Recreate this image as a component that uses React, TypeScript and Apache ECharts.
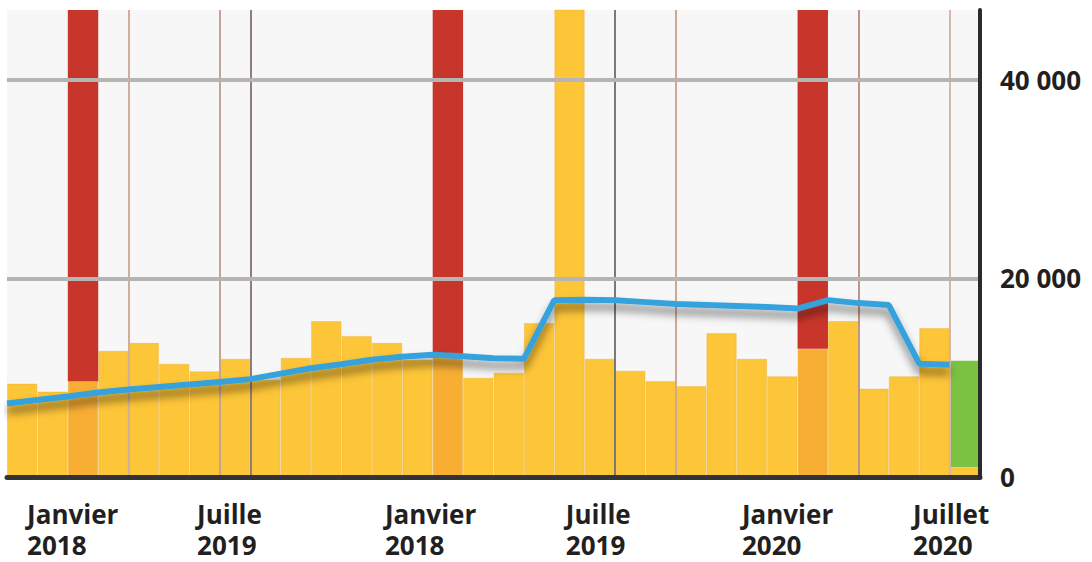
import React, { useEffect, useRef } from "react";
import * as echarts from "echarts";

// ---- data ----
const barValues = [
  9400, 8600, 9600, 12700, 13500, 11400, 10650, 11900, 9800, 12000, 15700,
  14200, 13500, 11800, 12300, 10000, 10500, 15500, 60000, 11900, 10700, 9650,
  9150, 14500, 11900, 10150, 12900, 15700, 8900, 10150, 15000, 1000,
];
const redValues: (number | null)[] = [
  null, null, 45000, null, null, null, null, null, null, null, null, null, null,
  null, 45000, null, null, null, null, null, null, null, null, null, null, null,
  45000, null, null, null, null, null,
];
const greenValues: (number | null)[] = [
  null, null, null, null, null, null, null, null, null, null, null, null, null,
  null, null, null, null, null, null, null, null, null, null, null, null, null,
  null, null, null, null, null, 10700,
];
const highlightIndex = [2, 14, 26];
const lineValues = [
  7400, 7750, 8100, 8500, 8800, 9050, 9300, 9550, 9850, 10400, 10950, 11350,
  11800, 12100, 12300, 12150, 11950, 11900, 17800, 17850, 17800, 17600, 17400,
  17300, 17200, 17100, 16950, 17800, 17500, 17300, 11400, 11300,
];
const lineBoundaryIndex = [
  0, 1, 2, 3, 4, 5, 6, 7, 8, 9, 10, 11, 12, 13, 14, 15, 16, 17, 18, 19, 20, 21,
  22, 23, 24, 25, 26, 27, 28, 29, 30, 31,
];
const tickLabels = [
  "Janvier\n2018",
  "Juille\n2019",
  "Janvier\n2018",
  "Juille\n2019",
  "Janvier\n2020",
  "Juillet\n2020",
];
const tickPositions = [0.66, 6.25, 12.43, 18.38, 24.17, 29.8];
const markerBoundaries = [4, 7, 8, 20, 22, 28, 31];
const markerColors = [
  "#cfae9e", "#c4a594", "#8e7d78", "#7d7876", "#cfa893", "#bf9685", "#d6b6a6", "rgba(0,0,0,0)",
];

const categories = barValues.map((_, i) => String(i));

export default function App() {
  const ref = useRef<HTMLDivElement>(null);
  useEffect(() => {
    if (!ref.current) return;
    const chart = echarts.init(ref.current, null, { renderer: "svg" });
    const yellow = "#fdc538";
    const orange = "#f8ae33";
    const fmt = (v: number) =>
      String(v).replace(/\B(?=(\d{3})+(?!\d))/g, " ");
    chart.setOption({
      animation: false,
      grid: {
        left: 7,
        right: 112,
        top: 10,
        bottom: 85,
        show: true,
        backgroundColor: "#f7f7f7",
        borderWidth: 0,
      },
      xAxis: [
        {
          type: "category",
          data: categories,
          boundaryGap: true,
          axisLine: {
            show: true,
            onZero: false,
            lineStyle: { color: "#333333", width: 5 },
          },
          axisTick: { show: false },
          axisLabel: { show: false },
          splitLine: {
            show: true,
            interval: (index: number) => markerBoundaries.includes(index),
            lineStyle: { color: markerColors, width: 2 },
          },
          z: 3,
        },
        {
          type: "value",
          min: 0,
          max: 32,
          position: "bottom",
          axisLine: { show: false, onZero: false },
          axisTick: { show: false },
          splitLine: { show: false },
          axisLabel: {
            show: true,
            customValues: tickPositions,
            formatter: (v: number) => {
              let best = 0;
              tickPositions.forEach((p, i) => {
                if (Math.abs(p - v) < Math.abs(tickPositions[best] - v)) best = i;
              });
              return tickLabels[best];
            },
            align: "left",
            verticalAlign: "top",
            margin: 21,
            fontFamily: "Open Sans",
            fontWeight: "bold",
            fontSize: 26,
            lineHeight: 31,
            color: "#231f20",
          },
        },
      ],
      yAxis: {
        type: "value",
        position: "right",
        min: 0,
        max: 47000,
        interval: 20000,
        axisLine: {
          show: true,
          onZero: false,
          lineStyle: { color: "#2b2b2b", width: 4 },
        },
        axisTick: { show: false },
        axisLabel: {
          showMaxLabel: false,
          margin: 20,
          formatter: (v: number) => fmt(v),
          fontFamily: "Open Sans",
          fontWeight: "bold",
          fontSize: 26,
          color: "#231f20",
        },
        splitLine: {
          show: true,
          lineStyle: {
            color: ["rgba(0,0,0,0)", "#b5b5b5", "#b5b5b5", "rgba(0,0,0,0)"],
            width: 4,
          },
        },
        z: 4,
      },
      series: [
        {
          type: "bar",
          xAxisIndex: 0,
          stack: "s",
          barCategoryGap: "0%",
          data: barValues.map((v, i) => ({
            value: v,
            itemStyle: { color: highlightIndex.includes(i) ? orange : yellow },
          })),
          itemStyle: { borderColor: "rgba(235,170,40,0.35)", borderWidth: 1 },
        },
        {
          type: "bar",
          xAxisIndex: 0,
          stack: "s",
          data: redValues,
          itemStyle: { color: "#c8352a" },
        },
        {
          type: "bar",
          xAxisIndex: 0,
          stack: "s",
          data: greenValues,
          itemStyle: { color: "#7bc142" },
        },
        {
          type: "line",
          xAxisIndex: 1,
          data: lineBoundaryIndex.map((x, i) => [x, lineValues[i]]),
          symbol: "none",
          lineStyle: {
            color: "#36a2dc",
            width: 6,
            shadowColor: "rgba(0,0,0,0.5)",
            shadowBlur: 8,
            shadowOffsetY: 7,
          },
          z: 5,
        },
      ],
    });
    return () => chart.dispose();
  }, []);
  return (
    <div
      ref={ref}
      style={{ position: "absolute", left: 0, top: 0, width: 1092, height: 562 }}
    />
  );
}
